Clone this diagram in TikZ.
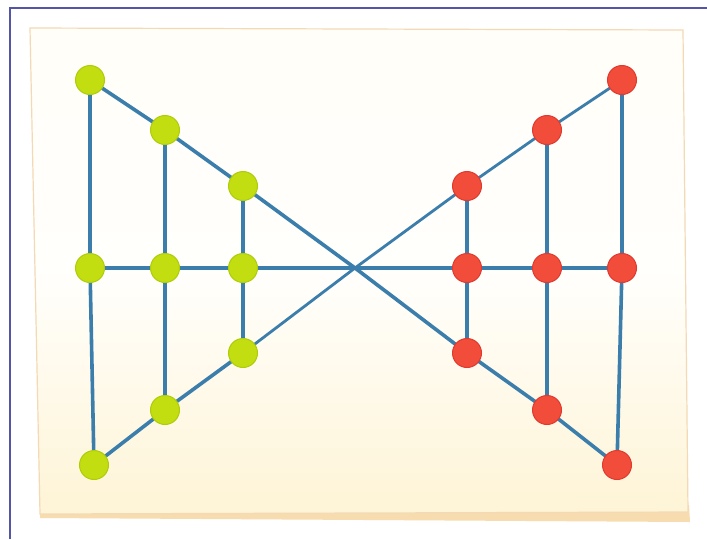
\documentclass[tikz,border=0pt]{standalone}
\pgfdeclarelayer{paper}
\pgfdeclarelayer{links}
\pgfsetlayers{paper,links,main}
\begin{document}
\begin{tikzpicture}[x=1pt,y=-1pt,
  gnode/.style={circle,minimum size=29pt,inner sep=0pt,fill=gfill,draw=gedge,line width=1pt},
  rnode/.style={circle,minimum size=29pt,inner sep=0pt,fill=rfill,draw=redge,line width=1pt},
  link/.style={line width=3.6pt,draw=linkc,line join=round},
  thinlink/.style={line width=2.8pt,draw=linkc,line join=round}]
\definecolor{gfill}{HTML}{C2DE10}
\definecolor{gedge}{HTML}{AFCC08}
\definecolor{rfill}{HTML}{F24C3A}
\definecolor{redge}{HTML}{E0392E}
\definecolor{linkc}{HTML}{3B7EAC}
\definecolor{framec}{HTML}{5555A8}
\definecolor{paperedge}{HTML}{F3DAB4}
\definecolor{papertop}{HTML}{FFFEF8}
\definecolor{paperbot}{HTML}{FEF4D6}
\definecolor{papershadow}{HTML}{F7DCB0}
\useasboundingbox (0,0) rectangle (707,539);
\begin{pgfonlayer}{paper}
\fill[white] (0,0) rectangle (707,539);
\draw[framec,line width=2pt] (10,539) -- (10,8) -- (707,8);
\fill[papershadow] (40,505) -- (689,505) -- (690,522) -- (40,518) -- cycle;
\shade[top color=papertop, bottom color=paperbot, middle color=white!60!papertop, draw=paperedge, line width=1.2pt]
  (30,28) -- (683,30) -- (688,512) -- (40,514) -- cycle;
\end{pgfonlayer}
% nodes
\node[gnode] (g1) at (90,80) {};
\node[gnode] (g2) at (165,130) {};
\node[gnode] (g3) at (243,186) {};
\node[gnode] (g4) at (90,268) {};
\node[gnode] (g5) at (165,268) {};
\node[gnode] (g6) at (243,268) {};
\node[gnode] (g7) at (243,353) {};
\node[gnode] (g8) at (165,410) {};
\node[gnode] (g9) at (94,465) {};
\node[rnode] (r1) at (622,80) {};
\node[rnode] (r2) at (547,130) {};
\node[rnode] (r3) at (467,186) {};
\node[rnode] (r4) at (467,268) {};
\node[rnode] (r5) at (547,268) {};
\node[rnode] (r6) at (622,268) {};
\node[rnode] (r7) at (467,353) {};
\node[rnode] (r8) at (547,410) {};
\node[rnode] (r9) at (617,465) {};
\coordinate (c) at (355,268);
\begin{pgfonlayer}{links}
\draw[link] (g1.center) -- (g2.center) -- (g3.center) -- (c) -- (r7.center) -- (r8.center) -- (r9.center);
\draw[link] (g9.center) -- (g8.center) -- (g7.center);
\draw[thinlink] (g7.center) -- (c) -- (r3.center) -- (r2.center) -- (r1.center);
\draw[link] (g4.center) -- (g5.center) -- (g6.center) -- (c) -- (r4.center) -- (r5.center) -- (r6.center);
\draw[link] (g1.center) -- (g4.center) -- (g9.center);
\draw[link] (g2.center) -- (g5.center) -- (g8.center);
\draw[link] (g3.center) -- (g6.center) -- (g7.center);
\draw[link] (r1.center) -- (r6.center) -- (r9.center);
\draw[link] (r2.center) -- (r5.center) -- (r8.center);
\draw[link] (r3.center) -- (r4.center) -- (r7.center);
\end{pgfonlayer}
\end{tikzpicture}
\end{document}
